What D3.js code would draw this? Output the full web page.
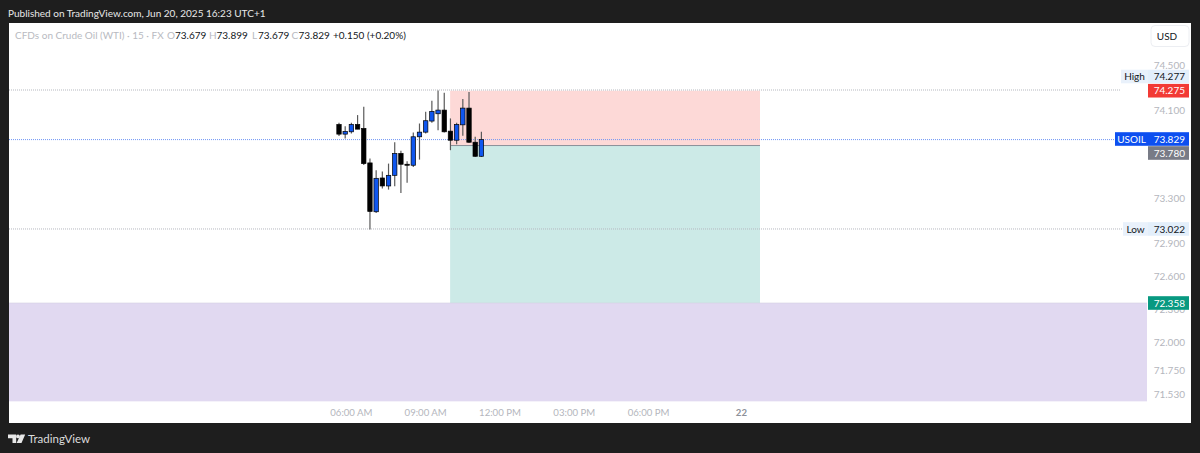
<!DOCTYPE html>
<html><head><meta charset="utf-8">
<script src="https://cdn.jsdelivr.net/npm/d3@7/dist/d3.min.js"></script>
<style>html,body{margin:0;padding:0;background:#1e1e1e;overflow:hidden}svg{display:block}text{font-family:Lato,sans-serif}</style>
</head><body><svg id="c" width="1200" height="453"></svg>
<script>
const opens  = [73.970,73.883,73.904,73.970,73.934,73.623,73.182,73.487,73.415,73.511,73.708,73.611,73.602,73.859,73.901,74.001,74.067,74.100,73.910,73.828,73.967,74.118,73.810,73.683];
const highs  = [73.986,73.955,73.986,74.055,74.130,73.662,73.557,73.545,73.617,73.810,73.732,73.638,73.898,73.979,74.085,74.185,74.277,74.257,74.025,73.986,74.200,74.263,73.859,73.904];
const lows   = [73.865,73.844,73.889,73.928,73.605,73.022,73.170,73.391,73.382,73.412,73.351,73.445,73.587,73.653,73.889,73.986,73.919,73.898,73.738,73.792,73.868,73.804,73.677,73.677];
const closes = [73.883,73.907,73.970,73.928,73.617,73.185,73.484,73.415,73.511,73.708,73.611,73.602,73.859,73.901,74.004,74.088,74.100,73.904,73.828,73.970,74.118,73.810,73.683,73.834];
const priceTicks = [74.5,74.1,73.3,72.9,72.6,72.3,72.0,71.75,71.53];
const timeTickBars = [2,14,26,38,50,65];
const timeTickLabels = ["06:00 AM","09:00 AM","12:00 PM","03:00 PM","06:00 PM","22"];
const highPrice=74.277, lowPrice=73.022, lastPrice=73.829;
const stopPrice=74.275, entryPrice=73.780, targetPrice=72.358, zoneBottom=71.47;
const positionBars=[17.95,68];

const svg=d3.select("#c");
const y=d3.scaleLinear().domain([74.277,72.358]).range([90.5,303]);
const x=d3.scaleLinear().domain([0,23]).range([339,481.4]);
const paneL=9,paneR=1147,top_=23,bot=423,outerR=1191;
const FS=10;

svg.append("rect").attr("width",1200).attr("height",453).attr("fill","#1e1e1e");
svg.append("rect").attr("x",paneL).attr("y",top_).attr("width",outerR-paneL).attr("height",bot-top_).attr("fill","#fff");

// zones
svg.append("rect").attr("x",paneL).attr("y",y(targetPrice)).attr("width",paneR-paneL).attr("height",y(zoneBottom)-y(targetPrice)).attr("fill","#e1d9f1");
svg.append("rect").attr("x",x(positionBars[0])).attr("y",y(stopPrice)).attr("width",x(positionBars[1])-x(positionBars[0])).attr("height",y(entryPrice)-y(stopPrice)).attr("fill","#fdd9d7");
svg.append("rect").attr("x",x(positionBars[0])).attr("y",y(entryPrice)).attr("width",x(positionBars[1])-x(positionBars[0])).attr("height",y(targetPrice)-y(entryPrice)).attr("fill","#cceae7");
svg.append("line").attr("x1",x(positionBars[0])).attr("x2",x(positionBars[1])).attr("y1",y(entryPrice)).attr("y2",y(entryPrice)).attr("stroke","#8a8f98").attr("stroke-width",1);
svg.append("line").attr("x1",paneL).attr("x2",paneR).attr("y1",y(targetPrice)).attr("y2",y(targetPrice)).attr("stroke","#d5d0e2").attr("stroke-width",.6);

// dotted reference lines
[[highPrice,1121,"#b5b8bf"],[lowPrice,1123,"#b5b8bf"],[lastPrice,1115,"#6f95f5"]].forEach(([p,xe,c])=>{
  svg.append("line").attr("x1",paneL).attr("x2",xe).attr("y1",y(p)-.5).attr("y2",y(p)-.5)
    .attr("stroke",c).attr("stroke-width",1).attr("stroke-dasharray","1 1");
});

// candles
const bars=d3.range(opens.length);
const g=svg.append("g");
g.selectAll(".w").data(bars).join("line").attr("x1",i=>x(i)).attr("x2",i=>x(i))
  .attr("y1",i=>y(highs[i])).attr("y2",i=>y(lows[i])).attr("stroke","#5a5a5a").attr("stroke-width",1.2);
g.selectAll(".b").data(bars).join("rect").attr("x",i=>x(i)-2.2).attr("width",4.4)
  .attr("y",i=>y(Math.max(opens[i],closes[i])))
  .attr("height",i=>Math.max(1,Math.abs(y(opens[i])-y(closes[i]))))
  .attr("fill",i=>closes[i]>=opens[i]?"#0f56ee":"#000").attr("stroke","#000").attr("stroke-width",.7);

// price axis
svg.append("g").selectAll("text").data(priceTicks).join("text").attr("x",1185).attr("y",d=>y(d)+3.6)
  .attr("text-anchor","end").attr("font-size",FS).attr("fill","#b4b6bd").text(d=>d.toFixed(3));

function tag(x0,x1,yc,fill,color,t,anchor){
  svg.append("rect").attr("x",x0).attr("y",yc-6.8).attr("width",x1-x0).attr("height",13.6).attr("fill",fill);
  svg.append("text").attr("x",anchor==="end"?x1-4:(x0+x1)/2).attr("y",yc+3.6).attr("text-anchor",anchor||"middle")
    .attr("font-size",FS).attr("fill",color).text(t);
}
const fmt=d3.format(".3f");
const hiY=76.5;
tag(1148,1189,hiY,"#e3effb","#131722",fmt(highPrice),"end");
tag(1121,1148,hiY,"#e9f1fb","#131722","High");
tag(1148,1189,y(stopPrice),"#f23a35","#fff",fmt(stopPrice),"end");
tag(1115,1148,139,"#0d4ff0","#fff","USOIL");
tag(1148,1189,139,"#0d4ff0","#fff",fmt(lastPrice),"end");
tag(1148,1189,153,"#787b86","#fff",fmt(entryPrice),"end");
tag(1123,1148,y(lowPrice)-.5,"#e9f1fb","#131722","Low");
tag(1148,1189,y(lowPrice)-.5,"#e3effb","#131722",fmt(lowPrice),"end");
tag(1148,1189,y(targetPrice),"#089981","#fff",fmt(targetPrice),"end");

// USD button
svg.append("rect").attr("x",1151).attr("y",25.5).attr("width",38).attr("height",21).attr("rx",4).attr("fill","#fff").attr("stroke","#eceef2");
svg.append("text").attr("x",1167).attr("y",39.5).attr("text-anchor","middle").attr("font-size",FS).attr("fill","#131722").text("USD");

// time axis
svg.append("g").selectAll("text").data(timeTickBars).join("text").attr("x",d=>x(d)).attr("y",415.5)
  .attr("text-anchor","middle").attr("font-size",9.6).attr("fill",(d,i)=>i===5?"#8d9099":"#b4b6bd").attr("font-weight",(d,i)=>i===5?700:400)
  .text((d,i)=>timeTickLabels[i]);

// header
svg.append("text").attr("x",8).attr("y",16.5).attr("font-size",FS).attr("fill","#e8e8e8").text("Published on TradingView.com, Jun 20, 2025 16:23 UTC+1");
const hdrParts=[["CFDs on Crude Oil (WTI) · 15 · FX",15,"#b8bac1"],["O",167,"#b8bac1"],["73.679",175,"#131722"],["H",209,"#b8bac1"],["73.899",216.5,"#131722"],["L",252,"#b8bac1"],["73.679",258,"#131722"],["C",291.5,"#b8bac1"],["73.829",298.5,"#131722"],["+0.150 (+0.20%)",333,"#131722"]];
svg.append("g").selectAll("text").data(hdrParts).join("text").attr("x",d=>d[1]).attr("y",38.5).attr("font-size",FS).attr("fill",d=>d[2]).text(d=>d[0]);

// footer logo
svg.append("path").attr("fill","#e8e8e8").attr("d","M8 434.5h8.2v8.5h-3.7v-4.7H8zM20.6 434.5h4.6l-3.7 8.5h-4.9z");
svg.append("circle").attr("cx",18).attr("cy",436.4).attr("r",1.9).attr("fill","#e8e8e8");
svg.append("text").attr("x",28).attr("y",443).attr("font-size",11.5).attr("fill","#dcdcdc").text("TradingView");
</script></body></html>
